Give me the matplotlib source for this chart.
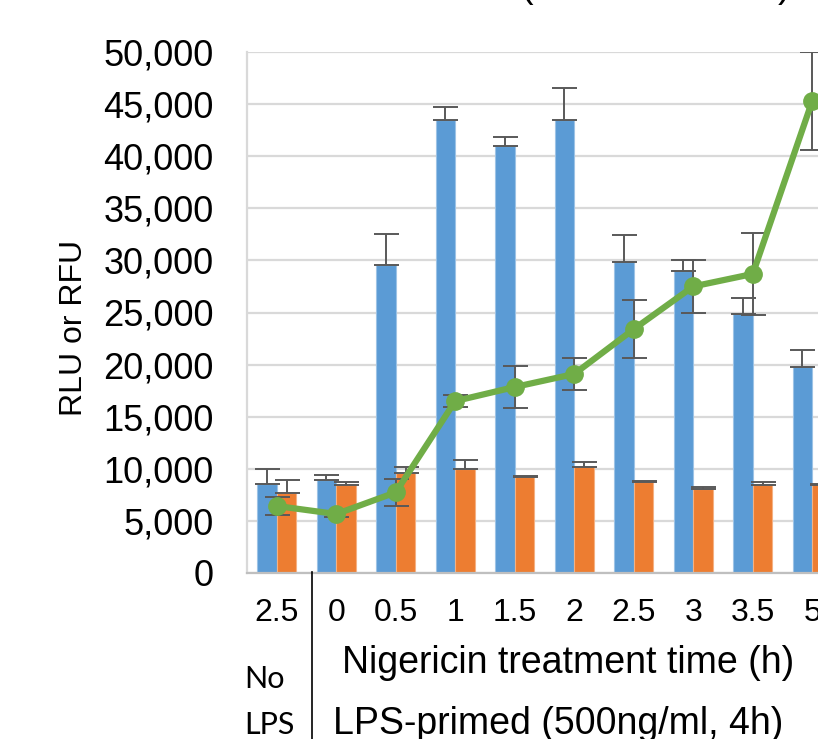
import matplotlib.pyplot as plt
import numpy as np
from matplotlib.lines import Line2D
from matplotlib.ticker import FuncFormatter

plt.rcParams["font.family"] = ["Liberation Sans", "DejaVu Sans"]

# Data
time_labels = ["2.5", "0", "0.5", "1", "1.5", "2", "2.5", "3", "3.5", "5"]
blue_vals = [8500, 8900, 29600, 43500, 41000, 43500, 29850, 29000, 24900, 19800]
blue_err = [1500, 500, 2900, 1200, 800, 3000, 2600, 1000, 1500, 1600]
orange_vals = [7650, 8400, 9570, 9950, 9240, 10200, 8700, 8060, 8420, 8420]
orange_err = [1300, 300, 650, 850, 100, 500, 150, 220, 300, 150]
green_vals = [6430, 5660, 7740, 16500, 17850, 19100, 23400, 27500, 28700, 45300]
green_err = [900, 300, 1300, 600, 2000, 1500, 2800, 2500, 3900, 4700]

W, H = 818, 739
fig = plt.figure(figsize=(W / 100, H / 100), dpi=100)


def px(x, y):
    # pixel coords (from top-left) -> figure fraction
    return x / W, 1 - y / H


# axes run past the right edge, as in the cropped original
ax = fig.add_axes([247 / W, 166 / H, 595 / W, 521 / H])

x = np.arange(len(time_labels))
bw = 0.33
blue = "#5B9BD5"
orange = "#ED7D31"
green = "#70AD47"
err_c = "#595959"

ax.bar(x - bw / 2, blue_vals, bw, color=blue, edgecolor="#9DC3E6", linewidth=0.8, zorder=2)
ax.bar(x + bw / 2, orange_vals, bw, color=orange, edgecolor="#F4B183", linewidth=0.8, zorder=2)
ax.errorbar(x - bw / 2, blue_vals, yerr=[np.zeros(len(x)), blue_err], fmt="none",
            ecolor=err_c, elinewidth=1.4, capsize=9, capthick=1.4, zorder=3)
ax.errorbar(x + bw / 2, orange_vals, yerr=[np.zeros(len(x)), orange_err], fmt="none",
            ecolor=err_c, elinewidth=1.4, capsize=9, capthick=1.4, zorder=3)
ax.errorbar(x, green_vals, yerr=green_err, fmt="none",
            ecolor=err_c, elinewidth=1.4, capsize=9, capthick=1.4, zorder=4)
ax.plot(x, green_vals, color=green, lw=4.5, marker="o", ms=12.5, zorder=5)

ax.set_xlim(-0.5, len(x) - 0.5)
ax.set_ylim(0, 50000)
ax.set_yticks(np.arange(0, 50001, 5000))
ax.yaxis.set_major_formatter(FuncFormatter(lambda v, p: f"{int(v):,}"))
ax.tick_params(axis="y", length=0, pad=24, labelsize=26)
ax.set_xticks(x)
ax.set_xticklabels(time_labels)
ax.tick_params(axis="x", length=0, pad=18, labelsize=23)
ax.grid(axis="y", color="#D9D9D9", lw=1.6, zorder=0)
ax.set_axisbelow(True)
for s in ["top", "right"]:
    ax.spines[s].set_visible(False)
ax.spines["left"].set_color("#D9D9D9")
ax.spines["left"].set_linewidth(1.6)
ax.spines["bottom"].set_color("#BFBFBF")
ax.spines["bottom"].set_linewidth(1.6)

ax.set_ylabel("RLU or RFU", fontsize=23)
ax.yaxis.set_label_coords(*ax.transAxes.inverted().transform(fig.transFigure.transform(px(89, 328))))

# separator between "No LPS" and LPS-primed groups
fig.add_artist(Line2D([312 / W, 312 / W], [0, 167 / H], color="black", lw=1.2))

fig.text(*px(568, 673), "Nigericin treatment time (h)", fontsize=27, ha="center", va="baseline")
fig.text(*px(558, 734), "LPS-primed (500ng/ml, 4h)", fontsize=27, ha="center", va="baseline")
fig.text(*px(244, 688), "No", fontsize=22, family=["Lato", "DejaVu Sans"], ha="left", va="baseline")
fig.text(*px(244, 734), "LPS", fontsize=22, family=["Lato", "DejaVu Sans"], ha="left", va="baseline")

# clipped title parentheses at the very top
fig.text(*px(527, -3), "(", fontsize=27, ha="center", va="baseline")
fig.text(*px(784, -3), ")", fontsize=27, ha="center", va="baseline")

fig.savefig("out.png", dpi=100)
